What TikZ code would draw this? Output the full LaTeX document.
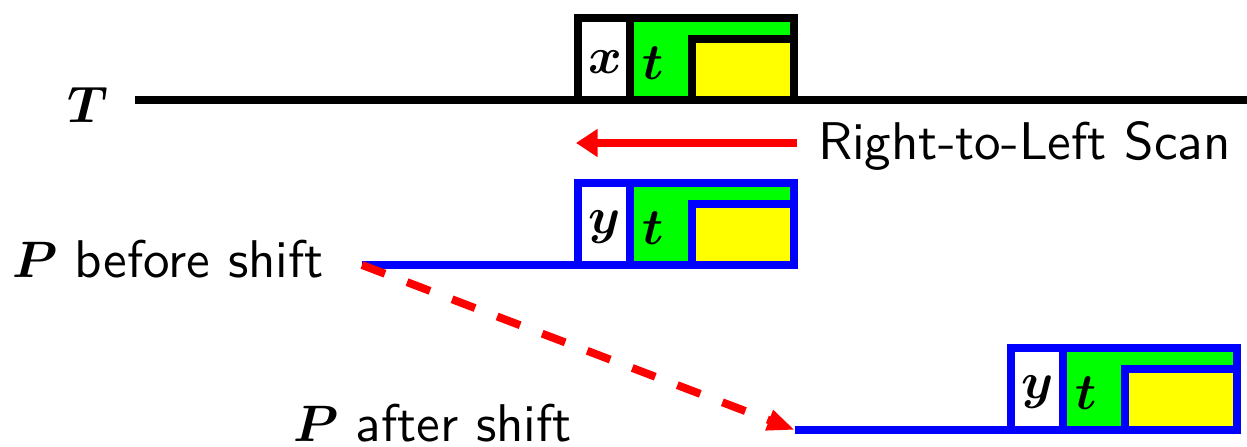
\documentclass[tikz,border=0pt]{standalone}
\usepackage{amsmath,bm}
\usetikzlibrary{arrows.meta}
\definecolor{pgreen}{RGB}{0,255,0}
\definecolor{pyellow}{RGB}{255,255,0}
\definecolor{pblue}{RGB}{0,0,255}
\definecolor{pred}{RGB}{255,0,0}
\tikzset{
  strong/.style={line width=1.55pt},
  letter/.style={inner sep=0pt, font=\fontsize{10.35pt}{12pt}\selectfont},
  lab/.style={inner sep=0pt, font=\fontsize{10.35pt}{12pt}\selectfont\sffamily},
  scanarrow/.style={strong, draw=pred, -{Triangle[length=4.2pt,width=5.2pt]}},
  shiftarrow/.style={strong, draw=pred, dash pattern=on 4.8pt off 4.6pt, -{Triangle[length=5.4pt,width=3.9pt]}},
}
% #1 x0, #2 y0, #3 width, #4 colour, #5 letter, #6 name prefix
\newcommand{\occbox}[6]{%
  \fill[pgreen] (#1,#2) rectangle ++(#3,82);
  \fill[white] (#1,#2) rectangle ++(52,82);
  \fill[pyellow] ({#1+114},{#2+21}) rectangle ({#1+#3},{#2+82});
  \draw[strong,#4] (#1,#2) rectangle ++(#3,82);
  \draw[strong,#4] ({#1+52},#2) -- ({#1+52},{#2+82});
  \draw[strong,#4] ({#1+114},{#2+82}) |- ({#1+#3},{#2+21});
  \node[letter] (#6a) at ({#1+27},{#2+44}) {$\bm{#5}$};
  \node[letter] (#6t) at ({#1+75},{#2+45}) {$\bm{t}$};
}
\begin{document}
\begin{tikzpicture}[x=0.195pt,y=-0.195pt]
\useasboundingbox (0,0) rectangle (1247,447);
% text line T
\coordinate (Ts) at (135,100);
\coordinate (Te) at (1247,100);
\draw[strong,black] (Ts) -- (Te);
\node[letter] (Tlab) at (88,105) {$\bm{T}$};
\occbox{578}{18}{216}{black}{x}{top}
% scan arrow
\coordinate (Ss) at (797,143);
\coordinate (Se) at (576,143);
\draw[scanarrow] (Ss) -- (Se);
\node[lab, anchor=base west] (scan) at (817,160) {Right-to-Left Scan};
% P before shift
\coordinate (Pb) at (362,265);
\draw[strong,pblue] (Pb) -- (578,265);
\occbox{578}{183}{216}{pblue}{y}{mid}
\node[lab, anchor=base west] (Pblab) at (11,278) {$\bm{P}$ before shift};
% P after shift
\coordinate (Pa) at (795,430);
\draw[strong,pblue] (Pa) -- (1011,430);
\occbox{1011}{348}{226}{pblue}{y}{low}
\node[lab, anchor=base west] (Palab) at (292,442) {$\bm{P}$ after shift};
% shift arrow
\draw[shiftarrow] (Pb) -- (Pa);
\end{tikzpicture}
\end{document}
